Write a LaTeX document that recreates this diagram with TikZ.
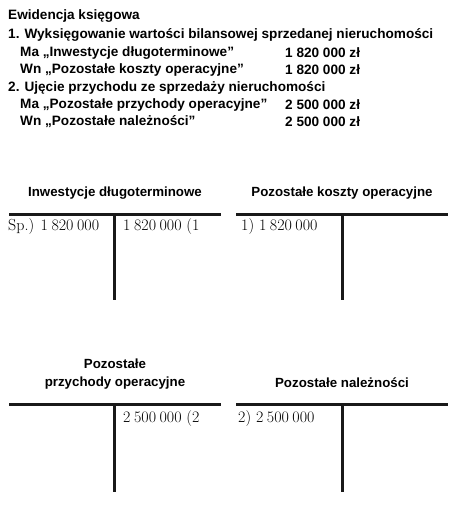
\documentclass[tikz,border=0pt]{standalone}
\usepackage{fontspec}
\usepackage{tikz}
\usetikzlibrary{positioning}
\newfontfamily\hdfont{Liberation Sans}
\tikzset{
  hdText/.style={font=\hdfont\bfseries\fontsize{13.6}{15}\selectfont, anchor=west, inner sep=0pt},
  acTitle/.style={font=\hdfont\bfseries\fontsize{13.3}{18}\selectfont, align=center, inner sep=0pt},
  acEntry/.style={font=\fontsize{16}{18}\selectfont, anchor=west, inner sep=0pt},
  acLine/.style={line width=3pt, draw=black!90}
}
\newcommand{\amt}[1]{\oldstylenums{#1}}
\newcommand{\gs}{\hspace{0.22em}}

\begin{document}
\begin{tikzpicture}[x=1pt, y=-1pt]
  \useasboundingbox (0,0) rectangle (457,519);
  % header
  \node[hdText] (hd) at (8,16) {Ewidencja księgowa};
  \node[hdText] (st1) at (8,35) {1. Wyksięgowanie wartości bilansowej sprzedanej nieruchomości};
  \node[hdText] (ma1) at (20,53) {Ma „Inwestycje długoterminowe”};
  \node[hdText] (wn1) at (20,70) {Wn „Pozostałe koszty operacyjne”};
  \node[hdText] (st2) at (8,88) {2. Ujęcie przychodu ze sprzedaży nieruchomości};
  \node[hdText] (ma2) at (20,105) {Ma „Pozostałe przychody operacyjne”};
  \node[hdText] (wn2) at (20,122) {Wn „Pozostałe należności”};
  \node[hdText] (ma1v) at (285,53) {1 820 000 zł};
  \node[hdText] (wn1v) at (285,70) {1 820 000 zł};
  \node[hdText] (ma2v) at (285,105) {2 500 000 zł};
  \node[hdText] (wn2v) at (285,122) {2 500 000 zł};

  % T-accounts, top row
  \node[acTitle] (inw) at (115,193) {Inwestycje długoterminowe};
  \node[acTitle] (pko) at (342,193) {Pozostałe koszty operacyjne};
  \coordinate (inwL) at (9,214);  \coordinate (inwR) at (221,214);
  \coordinate (inwT) at (114,214); \coordinate (inwB) at (114,300);
  \coordinate (pkoL) at (236,214); \coordinate (pkoR) at (448,214);
  \coordinate (pkoT) at (342,214); \coordinate (pkoB) at (342,300);
  \draw[acLine] (inwL) -- (inwR);
  \draw[acLine] (inwT) -- (inwB);
  \draw[acLine] (pkoL) -- (pkoR);
  \draw[acLine] (pkoT) -- (pkoB);
  \node[acEntry] (inwWn) at (8,227) {Sp.) \amt{1\gs820\gs000}};
  \node[acEntry] (inwMa) at (123,227) {\amt{1\gs820\gs000} (\amt{1}};
  \node[acEntry] (pkoWn) at (241,227) {\amt{1}) \amt{1\gs820\gs000}};

  % T-accounts, bottom row
  \node[acTitle] (ppo) at (115,374) {Pozostałe\\przychody operacyjne};
  \node[acTitle] (pna) at (342,383) {Pozostałe należności};
  \coordinate (ppoL) at (9,404);  \coordinate (ppoR) at (221,404);
  \coordinate (ppoT) at (114,404); \coordinate (ppoB) at (114,492);
  \coordinate (pnaL) at (236,404); \coordinate (pnaR) at (448,404);
  \coordinate (pnaT) at (342,404); \coordinate (pnaB) at (342,492);
  \draw[acLine] (ppoL) -- (ppoR);
  \draw[acLine] (ppoT) -- (ppoB);
  \draw[acLine] (pnaL) -- (pnaR);
  \draw[acLine] (pnaT) -- (pnaB);
  \node[acEntry] (ppoMa) at (123,419) {\amt{2\gs500\gs000} (\amt{2}};
  \node[acEntry] (pnaWn) at (238,419) {\amt{2}) \amt{2\gs500\gs000}};
\end{tikzpicture}
\end{document}
